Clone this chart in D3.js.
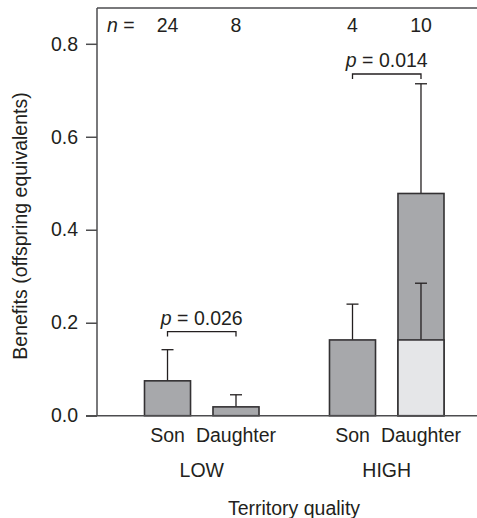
<!doctype html>
<html lang="en">
<head>
  <title>Benefits by territory quality</title>
  <script src="https://d3js.org/d3.v7.min.js"></script>
  <style>
    body {
      margin: 0px;
      background: #ffffff;
    }
    text {
      font-family: "Liberation Sans", Arial, sans-serif;
      font-size: 19.5px;
      fill: #231f20;
    }
  </style>
</head>
<body>
    <div id="container"></div>

    <script>
        // data
        var groups = ["LOW", "HIGH"];
        var sexes = ["Son", "Daughter"];
        var nCounts = [24, 8, 4, 10];
        var benefit = [0.075, 0.019, 0.163, 0.478];
        var errTop = [0.142, 0.045, 0.240, 0.714];
        // lower (light) part of the HIGH daughter bar
        var innerBenefit = [null, null, null, 0.163];
        var innerErrTop = [null, null, null, 0.285];
        var pLabels = ["0.026", "0.014"];
        var pBracket = [0.181, 0.735];
        var yTicks = [0.0, 0.2, 0.4, 0.6, 0.8];

        var W = 477, H = 518;
        var mLeft = 97, mRight = 477, mTop = 8, mBottom = 415.7;

        var svg = d3.select('div#container').append('svg')
            .attr('width', W)
            .attr('height', H);

        var y = d3.scaleLinear()
            .domain([0, 0.877])
            .range([mBottom, mTop]);

        var xGroup = d3.scaleBand()
            .domain(groups)
            .range([144.5, 444])
            .paddingInner(0.381);

        var xSex = d3.scaleBand()
            .domain(sexes)
            .range([0, xGroup.bandwidth()])
            .paddingInner(0.328);

        var bars = [];
        groups.forEach(function (g, gi) {
            sexes.forEach(function (s, si) {
                var i = gi * 2 + si;
                bars.push({
                    group: g, sex: s, n: nCounts[i],
                    v: benefit[i], e: errTop[i],
                    iv: innerBenefit[i], ie: innerErrTop[i]
                });
            });
        });

        function bx(d) { return xGroup(d.group) + xSex(d.sex); }
        function cx(d) { return bx(d) + xSex.bandwidth() / 2; }

        var axisColor = "#4d4d4f";
        var ink = "#231f20";

        // y axis
        var yAxis = svg.append("g")
            .attr("transform", "translate(" + mLeft + ",0)")
            .call(d3.axisLeft(y)
                .tickValues(yTicks)
                .tickFormat(d3.format(".1f"))
                .tickSize(11)
                .tickPadding(8));
        yAxis.select(".domain").remove();
        yAxis.selectAll(".tick line").attr("stroke", axisColor).attr("stroke-width", 1.5);
        yAxis.selectAll(".tick text")
            .style("font-family", '"Liberation Sans", Arial, sans-serif')
            .style("font-size", "19.5px")
            .attr("fill", ink);

        // frame lines
        svg.append("line")
            .attr("x1", mLeft).attr("x2", mLeft)
            .attr("y1", mTop).attr("y2", mBottom)
            .attr("stroke", axisColor).attr("stroke-width", 1.5);
        svg.append("line")
            .attr("x1", mLeft).attr("x2", mRight)
            .attr("y1", mTop).attr("y2", mTop)
            .attr("stroke", axisColor).attr("stroke-width", 1.5);

        function errorBar(x, y0, y1) {
            svg.append("line")
                .attr("x1", x).attr("x2", x)
                .attr("y1", y0).attr("y2", y1)
                .attr("stroke", ink).attr("stroke-width", 1.3);
            svg.append("line")
                .attr("x1", x - 6).attr("x2", x + 6)
                .attr("y1", y1).attr("y2", y1)
                .attr("stroke", ink).attr("stroke-width", 1.3);
        }

        // error bars (upward only)
        bars.forEach(function (d) { errorBar(cx(d), y(d.v), y(d.e)); });

        // bars
        svg.append("g")
            .selectAll("rect")
            .data(bars)
            .enter()
            .append("rect")
                .attr("x", bx)
                .attr("y", function (d) { return y(d.v); })
                .attr("width", xSex.bandwidth())
                .attr("height", function (d) { return y(0) - y(d.v); })
                .attr("fill", "#a7a8ab")
                .attr("stroke", "#333133")
                .attr("stroke-width", 1.6);

        // light lower segment + its error bar
        var inner = bars.filter(function (d) { return d.iv != null; });
        inner.forEach(function (d) { errorBar(cx(d), y(d.iv), y(d.ie)); });
        svg.append("g")
            .selectAll("rect")
            .data(inner)
            .enter()
            .append("rect")
                .attr("x", bx)
                .attr("y", function (d) { return y(d.iv); })
                .attr("width", xSex.bandwidth())
                .attr("height", function (d) { return y(0) - y(d.iv); })
                .attr("fill", "#e5e6e8")
                .attr("stroke", "#333133")
                .attr("stroke-width", 1.6);

        // x axis line
        svg.append("line")
            .attr("x1", mLeft - 11).attr("x2", mRight)
            .attr("y1", mBottom).attr("y2", mBottom)
            .attr("stroke", axisColor).attr("stroke-width", 1.5);

        // sex labels
        svg.append("g")
            .selectAll("text")
            .data(bars)
            .enter()
            .append("text")
                .attr("x", cx)
                .attr("y", 442)
                .attr("text-anchor", "middle")
                .text(function (d) { return d.sex; });

        // group labels
        svg.append("g")
            .selectAll("text")
            .data(groups)
            .enter()
            .append("text")
                .attr("x", function (g) { return xGroup(g) + xGroup.bandwidth() / 2; })
                .attr("y", 477)
                .attr("text-anchor", "middle")
                .text(function (g) { return g; });

        svg.append("text")
            .attr("x", 294)
            .attr("y", 515)
            .attr("text-anchor", "middle")
            .text("Territory quality");

        svg.append("text")
            .attr("transform", "translate(27,226) rotate(-90)")
            .attr("text-anchor", "middle")
            .text("Benefits (offspring equivalents)");

        // n row
        var nRow = svg.append("text").attr("x", 107).attr("y", 32);
        nRow.append("tspan").style("font-style", "italic").text("n");
        nRow.append("tspan").text(" =");
        svg.append("g")
            .selectAll("text")
            .data(bars)
            .enter()
            .append("text")
                .attr("x", cx)
                .attr("y", 32)
                .attr("text-anchor", "middle")
                .text(function (d) { return d.n; });

        // p-value brackets
        groups.forEach(function (g, gi) {
            var a = bars[gi * 2], b = bars[gi * 2 + 1];
            var yb = y(pBracket[gi]);
            svg.append("path")
                .attr("d", "M" + cx(a) + "," + (yb + 5) + "V" + yb + "H" + cx(b) + "V" + (yb + 5))
                .attr("fill", "none")
                .attr("stroke", ink)
                .attr("stroke-width", 1.3);
            var t = svg.append("text")
                .attr("x", (cx(a) + cx(b)) / 2)
                .attr("y", yb - 7)
                .attr("text-anchor", "middle");
            t.append("tspan").style("font-style", "italic").text("p");
            t.append("tspan").text(" = " + pLabels[gi]);
        });
    </script>
</body>
</html>
